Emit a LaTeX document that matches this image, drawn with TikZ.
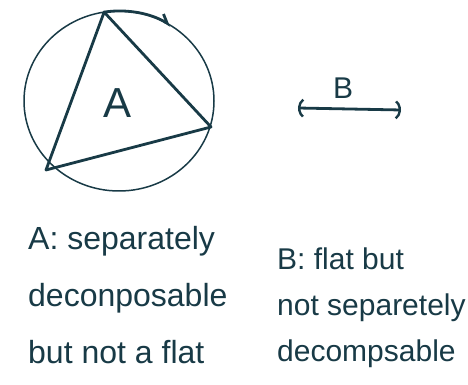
\documentclass[tikz,border=0pt]{standalone}
\usepackage{fontspec}
\setmainfont{Liberation Sans}
\usetikzlibrary{arrows.meta, positioning, calc}
\definecolor{sketchink}{RGB}{24, 58, 70}

\begin{document}
\begin{tikzpicture}[
    x=1pt, y=1pt,
    ink/.style={draw=sketchink, line cap=round, line join=round},
    thinline/.style={ink, line width=1.5pt},
    thickline/.style={ink, line width=2.8pt},
    turnarrow/.style={thickline, -{Straight Barb[left, length=8pt, width=12pt]}},
    interval/.style={thickline, {Parenthesis[length=9pt, width=22pt, line width=2.4pt]}-{Parenthesis[length=9pt, width=22pt, line width=2.4pt]}},
    bigletter/.style={text=sketchink, inner sep=0pt, font=\fontsize{42pt}{44pt}\selectfont},
    handtext/.style={text=sketchink, align=left, inner sep=0pt, anchor=base west}
]
    \useasboundingbox (0,0) rectangle (468,385);

    % --- CIRCLE WITH TRIANGLE (A) ---
    \coordinate (centre) at (119,284);
    \draw[thinline] (centre) ellipse[x radius=95, y radius=90];
    \coordinate (top) at ($(centre)+(99:95 and 90)$);
    \coordinate (right) at (211,258);
    \coordinate (left) at (46,215);
    \draw[thickline] (top) -- (right) -- (left) -- cycle;
    \draw[turnarrow] (top) arc[start angle=99, end angle=57, x radius=95, y radius=90];
    \node[bigletter] (labelA) at (118,282) {A};

    % --- INTERVAL (B) ---
    \coordinate (bleft) at (298,277);
    \coordinate (bright) at (401,275);
    \draw[interval] (bleft) -- (bright);
    \node[bigletter, font=\fontsize{30pt}{32pt}\selectfont] (labelB) at (343,297) {B};

    % --- CAPTIONS ---
    % (anchor base is the baseline of the last line)
    \node[handtext, font=\fontsize{32pt}{57pt}\selectfont] (captionA) at (28,21) {
        A: separately\\
        deconposable\\
        but not a flat
    };
    \node[handtext, font=\fontsize{30pt}{46pt}\selectfont] (captionB) at (277,23) {
        B: flat but\\
        not separetely\\
        decompsable
    };

\end{tikzpicture}
\end{document}
